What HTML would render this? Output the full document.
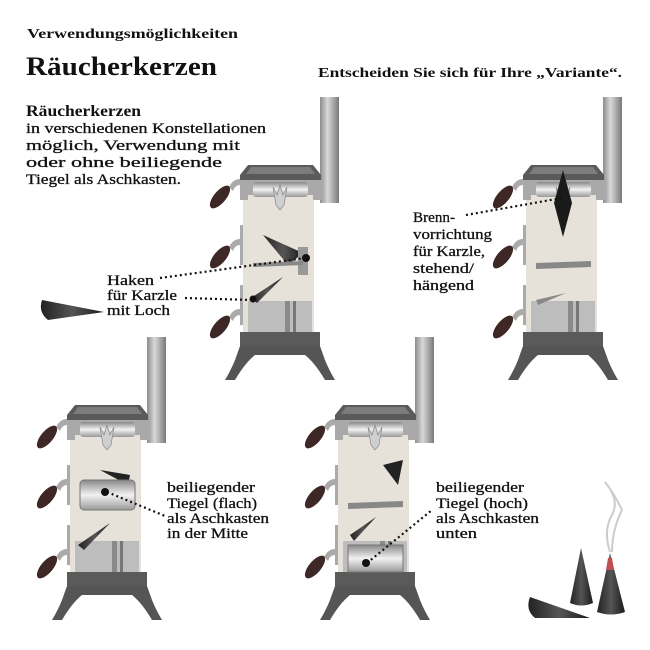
<!DOCTYPE html>
<html><head><meta charset="utf-8"><style>
body{margin:0;background:#fff;}
svg{display:block;}
text{font-family:"Liberation Serif",serif;fill:#111;}
.b{font-weight:bold;}
.n{stroke:#111;stroke-width:0.3;}
</style></head><body>
<svg width="650" height="650" viewBox="0 0 650 650" xmlns="http://www.w3.org/2000/svg">
<defs>
<linearGradient id="ch" x1="0" x2="1"><stop offset="0" stop-color="#8c8c8c"/><stop offset=".4" stop-color="#d8d8d8"/><stop offset="1" stop-color="#7a7a7a"/></linearGradient>
<linearGradient id="bowl" x1="0" x2="0" y1="0" y2="1"><stop offset="0" stop-color="#888"/><stop offset=".5" stop-color="#f2f2f2"/><stop offset="1" stop-color="#999"/></linearGradient>
<linearGradient id="cone" x1="0" x2="1"><stop offset="0" stop-color="#222"/><stop offset=".5" stop-color="#555"/><stop offset="1" stop-color="#1a1a1a"/></linearGradient>
<g id="stove">
 <rect x="77" y="-68" width="19" height="106" fill="url(#ch)"/>
 <rect x="0" y="30" width="73" height="137" fill="#e6e2da"/>
 <rect x="71" y="30" width="3" height="137" fill="#fff"/>
 <path d="M5 0 H70 L78 10 V15 H-3 V10 Z" fill="#5a5a5a"/>
 <path d="M8 2 H67 L72 9 H3 Z" fill="#7c7c7c"/>
 <path d="M-3 15 H80 V35 H70 V30 H5 V35 H-3 Z" fill="#a9a9a9"/>
 <rect x="10" y="17" width="55" height="15" rx="3" fill="url(#bowl)"/>
 <path d="M30 22 L33 40 L37 45 L41 40 L44 22 L40 30 L37 20 L34 30 Z" fill="#cfcfcf" stroke="#888" stroke-width=".7"/>
 <rect x="5" y="136" width="64" height="31" fill="#bdbdbd"/>
 <rect x="42" y="136" width="5" height="31" fill="#8a8a8a"/>
 <rect x="50" y="136" width="3" height="31" fill="#777"/>
 <path d="M-3 167 H77 V181 H-3 Z" fill="#5a5a5a"/>
 <path d="M-3 181 H77 L82 195 Q86 205 92 215 H82 Q72 198 62 190 H12 Q2 198 -8 215 H-18 Q-12 205 -8 195 Z" fill="#555"/>
 <rect x="-3" y="60" width="3" height="40" fill="#aaa"/>
 <rect x="-3" y="120" width="3" height="40" fill="#aaa"/>
 <path d="M-14 22 Q-10 14 -3 14 V20 Q-8 20 -10 26 Z" fill="#aaa"/>
 <path d="M-14 82 Q-10 74 -3 74 V80 Q-8 80 -10 86 Z" fill="#aaa"/>
 <path d="M-14 152 Q-10 144 -3 144 V150 Q-8 150 -10 156 Z" fill="#aaa"/>
 <ellipse cx="-23" cy="32" rx="6" ry="14" transform="rotate(40 -23 32)" fill="#3e2825"/>
 <ellipse cx="-23" cy="92" rx="6" ry="14" transform="rotate(40 -23 92)" fill="#3e2825"/>
 <ellipse cx="-23" cy="162" rx="6" ry="14" transform="rotate(40 -23 162)" fill="#3e2825"/>
</g>
</defs>

<text x="27" y="38" class="b" font-size="13.5" textLength="211" lengthAdjust="spacingAndGlyphs">Verwendungsmöglichkeiten</text>
<text x="26" y="75" class="b" font-size="26" textLength="191" lengthAdjust="spacingAndGlyphs">Räucherkerzen</text>
<text x="318" y="77" class="b" font-size="14" textLength="304" lengthAdjust="spacingAndGlyphs">Entscheiden Sie sich für Ihre „Variante“.</text>
<text x="26" y="116" class="b" font-size="15.5" textLength="115" lengthAdjust="spacingAndGlyphs">Räucherkerzen</text>
<g font-size="15" class="n">
<text x="26" y="133" textLength="240" lengthAdjust="spacingAndGlyphs">in verschiedenen Konstellationen</text>
<text x="26" y="150" textLength="214" lengthAdjust="spacingAndGlyphs">möglich, Verwendung mit</text>
<text x="26" y="167" textLength="196" lengthAdjust="spacingAndGlyphs">oder ohne beiliegende</text>
<text x="26" y="184" textLength="155" lengthAdjust="spacingAndGlyphs">Tiegel als Aschkasten.</text>
</g>

<g transform="translate(243,165)">
 <use href="#stove"/>
 <path d="M20 70 L60 88 L45 100 Z" fill="url(#cone)"/>
 <rect x="55" y="82" width="10" height="28" fill="#999"/>
 <circle cx="63" cy="93" r="4" fill="#111"/>
 <path d="M10 98 L60 96 L60 100 L10 102 Z" fill="#888"/>
 <path d="M8 133 L40 112 L14 138 Z" fill="url(#cone)"/>
 <circle cx="10" cy="134" r="3.5" fill="#111"/>
</g>
<g transform="translate(526,165)">
 <use href="#stove"/>
 <path d="M37 5 L46 38 L37 72 L28 38 Z" fill="#1a1a1a"/>
 <path d="M10 98 L65 96 L65 102 L10 104 Z" fill="#888"/>
 <path d="M10 135 L40 128 L12 140 Z" fill="#888"/>
</g>
<g transform="translate(70,405)">
 <use href="#stove"/>
 <path d="M30 65 L60 70 L58 80 Z" fill="#222"/>
 <rect x="10" y="75" width="55" height="30" rx="4" fill="url(#bowl)" stroke="#777"/>
 <circle cx="35" cy="87" r="4" fill="#111"/>
 <path d="M8 140 L40 118 L14 145 Z" fill="url(#cone)"/>
</g>
<g transform="translate(338,405)">
 <use href="#stove"/>
 <path d="M45 60 L65 55 L60 80 Z" fill="#222"/>
 <path d="M10 98 L65 96 L65 102 L10 104 Z" fill="#888"/>
 <path d="M12 130 L38 112 L16 136 Z" fill="url(#cone)"/>
 <rect x="10" y="140" width="55" height="27" fill="url(#bowl)" stroke="#777"/>
 <circle cx="28" cy="158" r="4" fill="#111"/>
</g>

<g stroke="#111" stroke-width="2.2" stroke-dasharray="2 3" fill="none">
 <line x1="160" y1="278" x2="305" y2="258"/>
 <line x1="185" y1="298" x2="252" y2="300"/>
 <line x1="466" y1="215" x2="562" y2="198"/>
 <line x1="107" y1="492" x2="165" y2="516"/>
 <line x1="367" y1="563" x2="432" y2="510"/>
</g>

<g font-size="15" class="n">
<text x="107" y="285" textLength="47" lengthAdjust="spacingAndGlyphs">Haken</text>
<text x="107" y="300" textLength="70" lengthAdjust="spacingAndGlyphs">für Karzle</text>
<text x="107" y="315" textLength="63" lengthAdjust="spacingAndGlyphs">mit Loch</text>
<text x="413" y="222" textLength="42" lengthAdjust="spacingAndGlyphs">Brenn-</text>
<text x="413" y="239" textLength="79" lengthAdjust="spacingAndGlyphs">vorrichtung</text>
<text x="413" y="256" textLength="72" lengthAdjust="spacingAndGlyphs">für Karzle,</text>
<text x="413" y="273" textLength="61" lengthAdjust="spacingAndGlyphs">stehend/</text>
<text x="413" y="290" textLength="61" lengthAdjust="spacingAndGlyphs">hängend</text>
<text x="167" y="492" textLength="88" lengthAdjust="spacingAndGlyphs">beiliegender</text>
<text x="167" y="508" textLength="90" lengthAdjust="spacingAndGlyphs">Tiegel (flach)</text>
<text x="167" y="523" textLength="102" lengthAdjust="spacingAndGlyphs">als Aschkasten</text>
<text x="167" y="538" textLength="81" lengthAdjust="spacingAndGlyphs">in der Mitte</text>
<text x="436" y="492" textLength="88" lengthAdjust="spacingAndGlyphs">beiliegender</text>
<text x="436" y="508" textLength="92" lengthAdjust="spacingAndGlyphs">Tiegel (hoch)</text>
<text x="436" y="523" textLength="103" lengthAdjust="spacingAndGlyphs">als Aschkasten</text>
<text x="436" y="538" textLength="41" lengthAdjust="spacingAndGlyphs">unten</text>
</g>

<path d="M42 300 Q38 312 48 320 L104 312 Z" fill="url(#cone)"/>
<path d="M530 597 Q525 610 535 618 L590 618 Z" fill="url(#cone)"/>
<path d="M581 548 L570 603 Q581 608 593 603 Z" fill="url(#cone)"/>
<path d="M610 553 L597 612 Q611 617 625 612 Z" fill="url(#cone)"/>
<path d="M608 558 L612 558 L614 570 L606 570 Z" fill="#c05050"/>
<path d="M610 552 Q603 530 612 515 Q620 500 605 482 Q615 495 622 510 Q612 530 612 552" fill="none" stroke="#ccc" stroke-width="2"/>
</svg>
</body></html>
